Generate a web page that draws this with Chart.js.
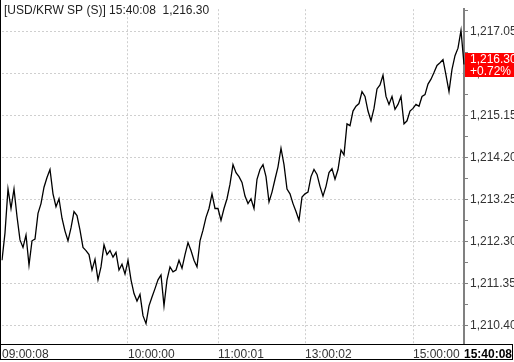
<!DOCTYPE html>
<html>
<head>
<meta charset="utf-8">
<script src="https://cdn.jsdelivr.net/npm/chart.js@4/dist/chart.umd.min.js"></script>
<style>
  html, body { margin: 0; padding: 0; background: #fff; }
  canvas { display: block; }
</style>
</head>
<body>
<canvas id="fx-chart" width="514" height="362"></canvas>
<script>
// USD/KRW spot, one sample every few minutes across the session
const prices = [
  1211.88, 1212.50, 1213.49, 1213.05, 1213.49, 1212.87, 1212.34, 1212.17, 1212.45, 1211.77,
  1212.32, 1212.36, 1212.94, 1213.16, 1213.53, 1213.75, 1213.93, 1213.38, 1213.09, 1213.27,
  1212.83, 1212.54, 1212.32, 1212.61, 1212.98, 1212.89, 1212.56, 1212.17, 1212.10, 1212.01,
  1211.66, 1211.90, 1211.44, 1211.73, 1212.23, 1212.01, 1212.10, 1211.95, 1212.06,
  1211.66, 1211.79, 1211.57, 1211.88, 1211.44, 1211.13, 1210.96, 1211.11, 1210.63, 1210.45,
  1210.85, 1211.05, 1211.24, 1211.44, 1211.55, 1210.85, 1211.44, 1211.73, 1211.62, 1211.66,
  1211.88, 1211.70, 1212.01, 1212.28, 1212.10, 1211.88, 1211.73, 1212.32, 1212.56, 1212.85,
  1213.05, 1213.38, 1213.05, 1213.05, 1212.78, 1213.05, 1213.27, 1213.60,
  1214.04, 1213.86, 1213.77, 1213.64, 1213.33, 1213.16, 1213.27, 1213.05, 1213.71, 1213.93,
  1214.04, 1213.77, 1213.20, 1213.42, 1213.71, 1213.99, 1214.41, 1214.04, 1213.49, 1213.38,
  1213.16, 1212.98, 1212.78, 1213.31, 1213.38, 1213.42, 1213.77, 1213.93, 1213.82, 1213.55,
  1213.33, 1213.55, 1213.86, 1213.95, 1213.71, 1213.93, 1214.37, 1214.26, 1214.96,
  1214.92, 1215.25, 1215.36, 1215.42, 1215.69, 1215.58, 1215.25, 1215.03, 1215.31, 1215.75,
  1215.84, 1216.06, 1215.58, 1215.40, 1215.58, 1215.29, 1215.40, 1215.58, 1214.96, 1215.03,
  1215.25, 1215.31, 1215.40, 1215.36, 1215.58, 1215.62, 1215.86, 1215.97, 1216.12, 1216.28,
  1216.34, 1216.41, 1216.06, 1215.69, 1216.19, 1216.50, 1216.67, 1217.07, 1216.30
];

// time labels and the sample they sit on
const timeIdx = [0, 42, 72, 101, 137, 154];
const timeText = ['09:00:08', '10:00:00', '11:00:01', '13:00:02', '15:00:00', '15:40:08'];

const priceTicks = [1210.40, 1211.35, 1212.30, 1213.25, 1214.20, 1215.15, 1216.10, 1217.05];

const headerText = '[USD/KRW SP (S)] 15:40:08  1,216.30';
const lastLabel = '1,216.30';
const changeLabel = '+0.72%';

const FONT = '"Liberation Sans", Arial, sans-serif';

const labels = prices.map((p, i) => {
  const k = timeIdx.indexOf(i);
  return k >= 0 ? timeText[k] : '';
});
const gridIdx = timeIdx.slice(1, -1);

function fmt(v) {
  return v.toLocaleString('en-US', { minimumFractionDigits: 2, maximumFractionDigits: 2 });
}

const decorations = {
  id: 'decorations',
  afterDraw(chart) {
    const ctx = chart.ctx;
    const y = chart.scales.y;
    const area = chart.chartArea;
    ctx.save();

    // header
    ctx.font = '12px ' + FONT;
    ctx.fillStyle = '#222';
    ctx.textBaseline = 'middle';
    ctx.textAlign = 'left';
    ctx.fillText(headerText, 4, 11);

    // last price box
    const py = Math.round(y.getPixelForValue(prices[prices.length - 1]));
    ctx.fillStyle = '#ff0000';
    ctx.fillRect(area.right + 1, py - 12, chart.width - area.right - 1, 24);
    ctx.fillStyle = '#fff';
    ctx.fillText(lastLabel, area.right + 6, py - 5);
    ctx.fillText(changeLabel, area.right + 6, py + 7);

    // frame lines
    ctx.strokeStyle = '#000';
    ctx.lineWidth = 1;
    ctx.beginPath();
    ctx.moveTo(0.5, 0);
    ctx.lineTo(0.5, 360);
    ctx.moveTo(0, 344.5);
    ctx.lineTo(513, 344.5);
    ctx.moveTo(0, 359.5);
    ctx.lineTo(513, 359.5);
    ctx.moveTo(512.5, 344);
    ctx.lineTo(512.5, 360);
    ctx.stroke();
    ctx.restore();
  }
};

new Chart(document.getElementById('fx-chart'), {
  type: 'line',
  data: {
    labels: labels,
    datasets: [{
      data: prices,
      borderColor: '#000',
      borderWidth: 1.3,
      pointRadius: 0,
      tension: 0,
      fill: false
    }]
  },
  options: {
    responsive: false,
    animation: false,
    layout: { padding: { left: 2, top: 0, right: 0, bottom: 0 } },
    plugins: {
      legend: { display: false },
      tooltip: { enabled: false }
    },
    scales: {
      x: {
        type: 'category',
        offset: false,
        afterFit(s) {
          s.height = 18;
          s.paddingLeft = 0;
          s.paddingRight = 0;
        },
        grid: {
          drawTicks: false,
          color: ctx => gridIdx.includes(ctx.index) ? '#cfcfcf' : 'rgba(0,0,0,0)'
        },
        border: { display: true, color: '#000', width: 1, dash: [2, 2] },
        ticks: {
          autoSkip: false,
          maxRotation: 0,
          align: 'start',
          padding: 3,
          color: ctx => ctx.index === 154 ? '#000' : '#333',
          font: ctx => ctx.index === 154
            ? { family: FONT, size: 12, weight: 'bold' }
            : { family: FONT, size: 12 }
        }
      },
      y: {
        position: 'right',
        min: 1209.99,
        max: 1217.55,
        afterFit(s) { s.width = 50; },
        afterBuildTicks(s) {
          const t = [];
          priceTicks.forEach(v => {
            t.push({ value: v, isMajor: true });
            t.push({ value: +(v + 0.475).toFixed(3), isMajor: false });
          });
          s.ticks = t;
        },
        grid: {
          tickLength: 4,
          color: ctx => ctx.tick && ctx.tick.isMajor ? '#cfcfcf' : 'rgba(0,0,0,0)',
          tickColor: '#808080'
        },
        border: { display: true, color: '#808080', width: 2, dash: [2, 2] },
        ticks: {
          padding: 2,
          color: '#333',
          font: { family: FONT, size: 12 },
          callback: function (v, i, ticks) {
            return ticks[i].isMajor ? fmt(v) : '';
          }
        }
      }
    }
  },
  plugins: [decorations]
});
</script>
</body>
</html>
